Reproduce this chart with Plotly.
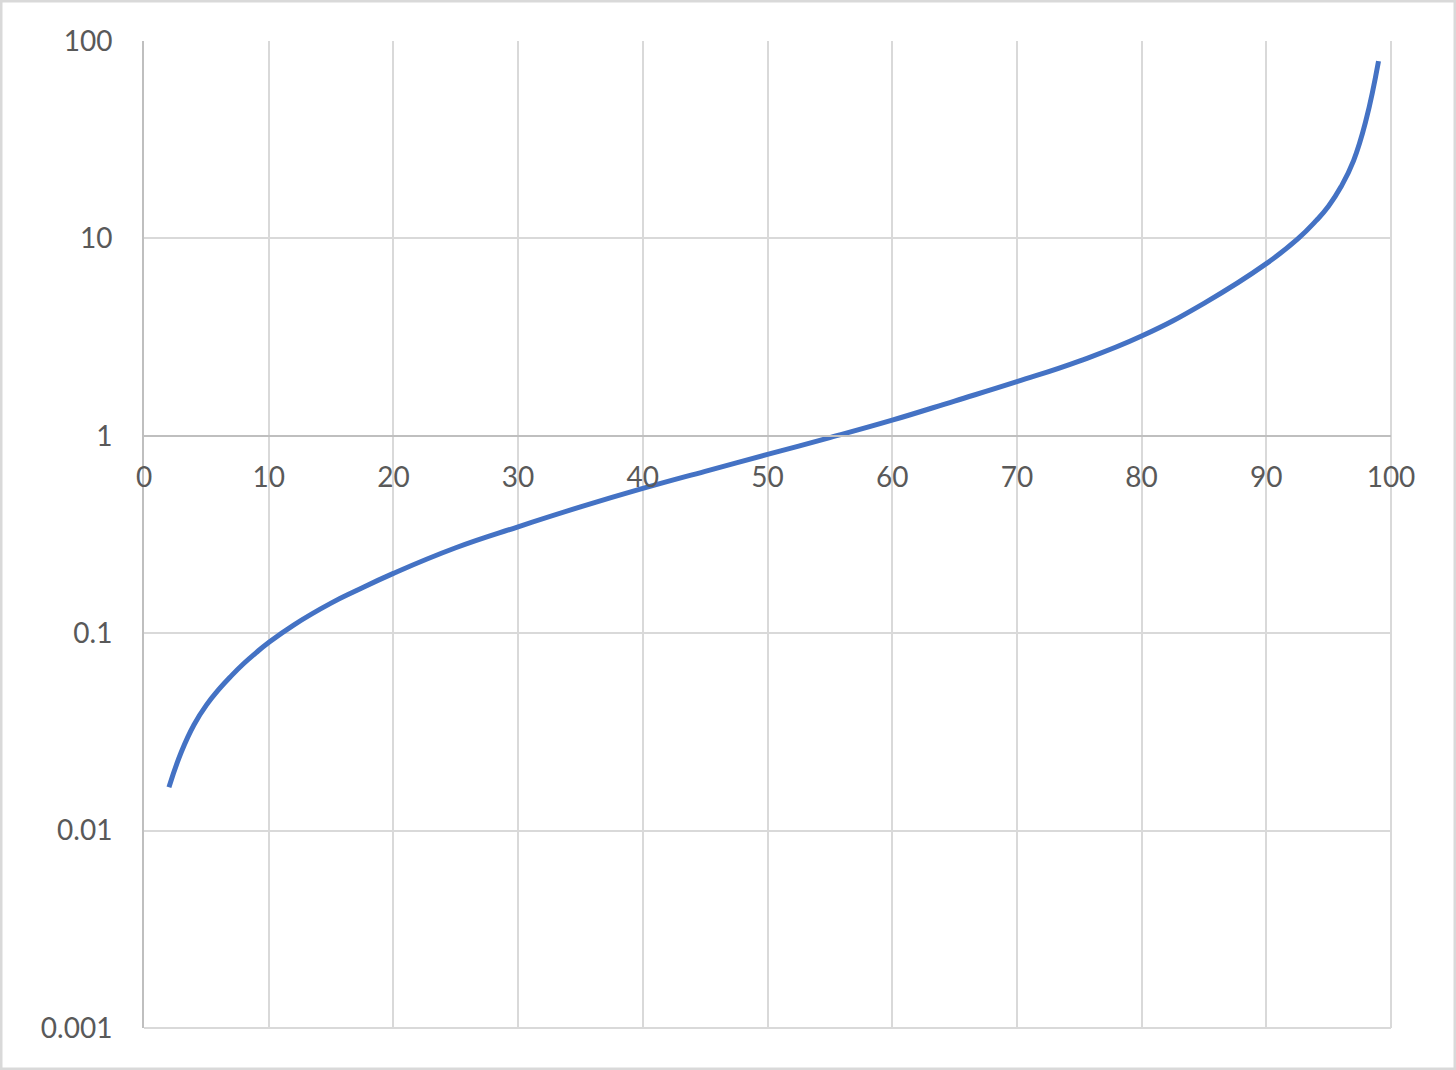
import plotly.graph_objects as go

x_vals = [2, 3, 4, 5, 6, 7, 8, 9, 10, 12, 15, 17, 20, 25, 30, 35, 40, 45, 50, 55, 60, 65, 70, 75, 80, 85, 90,
          92.5, 94, 95, 96, 97, 98, 99]
y_vals = [0.0166, 0.0251, 0.0343, 0.0432, 0.0519, 0.0608, 0.0702, 0.0798, 0.0897, 0.110, 0.142, 0.164, 0.201,
          0.271, 0.346, 0.436, 0.541, 0.661, 0.805, 0.979, 1.20, 1.50, 1.88, 2.39, 3.20, 4.69, 7.45,
          9.91, 12.3, 14.6, 18.3, 24.8, 39.8, 79.1]

x_ticks = [0, 10, 20, 30, 40, 50, 60, 70, 80, 90, 100]
y_ticks = [0.001, 0.01, 0.1, 1, 10, 100]
y_tick_text = ["0.001", "0.01", "0.1", "1", "10", "100"]

W, H = 1456, 1070
ml, mr, mt, mb = 144, 65, 41, 42
pw, ph = W - ml - mr, H - mt - mb

fig = go.Figure()
fig.add_trace(go.Scatter(x=x_vals, y=y_vals, mode="lines",
                         line=dict(color="#4472C4", width=5, shape="spline", smoothing=1.3),
                         showlegend=False, hoverinfo="x+y"))

font = dict(family="Lato, Carlito, sans-serif", size=28, color="#595959")

fig.update_layout(
    width=W, height=H,
    margin=dict(l=ml, r=mr, t=mt, b=mb),
    paper_bgcolor="white", plot_bgcolor="white",
    font=font,
    xaxis=dict(range=[0, 100], tickvals=x_ticks, showgrid=True, gridcolor="#d9d9d9", gridwidth=2,
               showline=True, linecolor="#bfbfbf", linewidth=2, zeroline=False,
               anchor="free", position=0.6, ticks="", ticklabelstandoff=17,
               tickfont=font, mirror=False),
    yaxis=dict(type="log", range=[-3, 2], tickvals=y_ticks, ticktext=y_tick_text,
               showgrid=True, gridcolor="#d9d9d9", gridwidth=2,
               showline=True, linecolor="#bfbfbf", linewidth=2, zeroline=False,
               ticks="", ticklabelstandoff=24, tickfont=font),
    shapes=[
        dict(type="line", xref="paper", yref="paper", x0=0, x1=1, y0=0, y1=0,
             line=dict(color="#d9d9d9", width=2), layer="below"),
        dict(type="line", xref="paper", yref="paper", x0=1, x1=1, y0=0, y1=1,
             line=dict(color="#d9d9d9", width=2), layer="below"),
        dict(type="rect", xref="paper", yref="paper",
             x0=-ml / pw + 0.0008, x1=(W - ml) / pw - 0.0008,
             y0=-mb / ph + 0.001, y1=(H - mb) / ph - 0.001,
             line=dict(color="#d9d9d9", width=3), fillcolor="rgba(0,0,0,0)", layer="below"),
    ],
)

fig.write_html("out.html", config={"displayModeBar": False},
               post_script="document.body.style.margin='0';document.body.style.overflow='hidden';")
